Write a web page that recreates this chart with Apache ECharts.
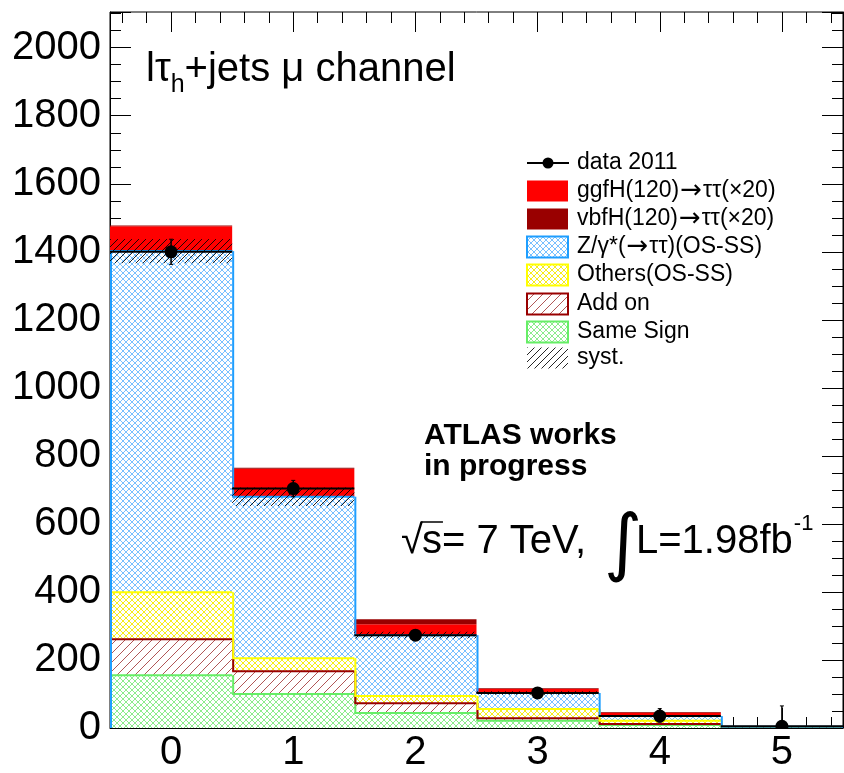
<!DOCTYPE html>
<html><head><meta charset="utf-8">
<script src="https://cdn.jsdelivr.net/npm/echarts@6/dist/echarts.min.js"></script>
<style>html,body{margin:0;padding:0;background:#fff}#c{width:844px;height:773px}</style>
</head><body><div id="c"></div>
<script>
// ---------------- data ----------------
const bins = [0, 1, 2, 3, 4, 5];
const xLabels = ['0', '1', '2', '3', '4', '5'];
const sameSign = [155, 100, 44, 21, 9, 1.5];
const addOn = [106, 67, 29, 8, 3, 0.5];
const others = [138, 38, 21, 27, 9, 0.5];
const zTauTau = [1003, 475, 179, 47, 14, 1];
const ggfH = [73, 82, 32, 12, 10, 0.5];
const vbfH = [2, 3, 15, 2, 2, 0.2];
const dataVal = [1400, 704, 273, 103, 35, 5];
const dataErrLo = [37, 24, 15, 12, 18, 5];
const dataErrHi = [37, 24, 15, 12, 22, 60];
const systErr = [36, 27, 10, 5, 3, 1];

// ---------------- helpers ----------------
const FONT = '"Liberation Sans", Arial, Helvetica, sans-serif';
function tile(size, color, lw, dirs, bg) {
  const c = document.createElement('canvas');
  c.width = c.height = size;
  const g = c.getContext('2d');
  if (bg) { g.fillStyle = bg; g.fillRect(0, 0, size, size); }
  g.strokeStyle = color; g.lineWidth = lw;
  g.beginPath();
  const s = size;
  if (dirs.indexOf('/') >= 0) {
    g.moveTo(-1, s + 1); g.lineTo(s + 1, -1);
    g.moveTo(-1, 1); g.lineTo(1, -1);
    g.moveTo(s - 1, s + 1); g.lineTo(s + 1, s - 1);
  }
  if (dirs.indexOf('\\') >= 0) {
    g.moveTo(-1, -1); g.lineTo(s + 1, s + 1);
    g.moveTo(s - 1, -1); g.lineTo(s + 1, 1);
    g.moveTo(-1, s - 1); g.lineTo(1, s + 1);
  }
  g.stroke();
  return { image: c, repeat: 'repeat' };
}
const patZ = tile(6, 'rgba(30,150,255,0.6)', 1, '/\\', '#ffffff');
const patOthers = tile(6, 'rgba(245,235,0,0.9)', 1, '/\\', '#ffffff');
const patAddOn = tile(9, 'rgba(150,30,30,0.75)', 1, '/', '#ffffff');
const patSame = tile(6, 'rgba(100,230,100,0.75)', 1, '/\\', '#ffffff');
const patSyst = tile(7, 'rgba(0,0,0,0.85)', 1, '/', null);

const colZ = '#1e9eff', colOthers = '#ffff00', colAddOn = '#990000', colSame = '#66ee66';
const colGgf = '#ff0000', colVbf = '#990000';

function cumulate(list) {
  const out = []; let base = bins.map(() => 0);
  list.forEach(v => { const top = base.map((b, i) => b + v[i]); out.push({ lo: base, hi: top }); base = top; });
  return out;
}
const layers = cumulate([sameSign, addOn, others, zTauTau, ggfH, vbfH]);
const bkgTop = layers[3].hi;

function stackLayer(name, lo, hi, fill, stroke) {
  const data = bins.map((b, i) => [b, lo[i], hi[i], i > 0 ? hi[i - 1] : 0, i === bins.length - 1 ? 1 : 0]);
  return {
    type: 'custom', name, data, z: 2, clip: true,
    encode: { x: 0, y: [1, 2] },
    renderItem(params, api) {
      const x = api.value(0), l = api.value(1), h = api.value(2), prev = api.value(3), last = api.value(4);
      const pl = api.coord([x - 0.5, l]);
      const ph = api.coord([x + 0.5, h]);
      const pp = api.coord([x - 0.5, prev]);
      const ch = [{ type: 'rect', z2: 1, shape: { x: pl[0], y: ph[1], width: ph[0] - pl[0], height: pl[1] - ph[1] }, style: { fill } }];
      if (stroke) {
        ch.push({ type: 'line', z2: 5, shape: { x1: pl[0], y1: ph[1], x2: ph[0], y2: ph[1] }, style: { stroke, lineWidth: 2 } });
        ch.push({ type: 'line', z2: 5, shape: { x1: pl[0] + 1, y1: pp[1], x2: pl[0] + 1, y2: ph[1] }, style: { stroke, lineWidth: 2 } });
        if (last) {
          const p0 = api.coord([x + 0.5, 0]);
          ch.push({ type: 'line', z2: 5, shape: { x1: ph[0], y1: ph[1], x2: ph[0], y2: p0[1] }, style: { stroke, lineWidth: 2 } });
        }
      }
      return { type: 'group', children: ch };
    }
  };
}

const series = [
  stackLayer('Same Sign', layers[0].lo, layers[0].hi, patSame, colSame),
  stackLayer('Add on', layers[1].lo, layers[1].hi, patAddOn, colAddOn),
  stackLayer('Others(OS-SS)', layers[2].lo, layers[2].hi, patOthers, colOthers),
  stackLayer('Z/γ*(→ττ)(OS-SS)', layers[3].lo, layers[3].hi, patZ, colZ),
  stackLayer('ggfH(120)→ττ(×20)', layers[4].lo, layers[4].hi, colGgf, null),
  stackLayer('vbfH(120)→ττ(×20)', layers[5].lo, layers[5].hi, colVbf, null),
  {
    type: 'custom', name: 'syst.', z: 3, clip: true,
    data: bins.map((b, i) => [b, bkgTop[i] - systErr[i], bkgTop[i] + systErr[i]]),
    encode: { x: 0, y: [1, 2] },
    renderItem(params, api) {
      const x = api.value(0);
      const a = api.coord([x - 0.5, api.value(1)]), b = api.coord([x + 0.5, api.value(2)]);
      return { type: 'rect', z2: 10, shape: { x: a[0], y: b[1], width: b[0] - a[0], height: a[1] - b[1] }, style: { fill: patSyst } };
    }
  },
  {
    type: 'custom', name: 'data 2011', z: 4, clip: true,
    data: bins.map((b, i) => [b, dataVal[i], Math.max(0, dataVal[i] - dataErrLo[i]), dataVal[i] + dataErrHi[i]]),
    encode: { x: 0, y: 1 },
    renderItem(params, api) {
      const x = api.value(0), y = api.value(1);
      const c = api.coord([x, y]);
      const cl = api.coord([x - 0.5, y]), cr = api.coord([x + 0.5, y]);
      const el = api.coord([x, api.value(2)]), eh = api.coord([x, api.value(3)]);
      const st = { stroke: '#000', lineWidth: 2 };
      return {
        type: 'group', children: [
          { type: 'line', z2: 20, shape: { x1: cl[0], y1: c[1], x2: cr[0], y2: c[1] }, style: st },
          { type: 'line', z2: 20, shape: { x1: c[0], y1: el[1], x2: c[0], y2: eh[1] }, style: { stroke: '#000', lineWidth: 1.5 } },
          { type: 'line', z2: 20, shape: { x1: c[0] - 2, y1: eh[1], x2: c[0] + 2, y2: eh[1] }, style: { stroke: '#000', lineWidth: 1 } },
          { type: 'line', z2: 20, shape: { x1: c[0] - 2, y1: el[1], x2: c[0] + 2, y2: el[1] }, style: { stroke: '#000', lineWidth: 1 } },
          { type: 'circle', z2: 21, shape: { cx: c[0], cy: c[1], r: 6.5 }, style: { fill: '#000' } }
        ]
      };
    }
  }
];

// ---------------- axes ----------------
const majorX = bins.slice();
const minorX = [];
for (let k = -2; k <= 27; k++) { const v = Math.round(k * 2) / 10; if (v > -0.5 && v < 5.5 && Math.abs(v - Math.round(v)) > 1e-6) minorX.push(v); }

function xAx(pos, values, len, withLabel) {
  return {
    type: 'value', min: -0.5, max: 5.5, position: pos,
    axisLine: { show: withLabel, onZero: false, lineStyle: { color: '#000', width: 1 } },
    axisTick: { show: true, inside: true, length: len, customValues: values, lineStyle: { color: '#000', width: 1 } },
    axisLabel: withLabel ? { show: true, customValues: values, fontSize: 40, fontFamily: FONT, color: '#000', margin: 5,
      formatter: v => xLabels[bins.indexOf(Math.round(v))] } : { show: false },
    splitLine: { show: false }
  };
}
function yAx(pos, withLabel) {
  return {
    type: 'value', min: 0, max: 2105, interval: 200, position: pos,
    axisLine: { show: true, onZero: false, lineStyle: { color: '#000', width: 1 } },
    axisTick: { show: true, inside: true, length: 21, lineStyle: { color: '#000', width: 1 } },
    minorTick: { show: true, splitNumber: 4, length: 11, lineStyle: { color: '#000', width: 1 } },
    axisLabel: withLabel ? { show: true, fontSize: 40, fontFamily: FONT, color: '#000', margin: 9,
      formatter: v => (v % 200 === 0 ? String(v) : '') } : { show: false },
    splitLine: { show: false }, minorSplitLine: { show: false }
  };
}

// ---------------- legend & annotations (graphic) ----------------
const mctx = document.createElement('canvas').getContext('2d');
function tw(text, size, weight, fam) { mctx.font = (weight || 'normal') + ' ' + size + 'px ' + (fam || FONT); return mctx.measureText(text).width; }
function txt(text, x, y, size, opts) {
  opts = opts || {};
  return { type: 'text', x, y, z: 100, style: { text, fontSize: size, fontFamily: opts.family || FONT, fontWeight: opts.weight || 'normal',
    fill: '#000', align: 'left', verticalAlign: 'middle' } };
}
const ARROW_FONT = '"DejaVu Sans", ' + FONT;
function richTxt(text, x, y, size) {
  const parts = text.split('→');
  const str = parts.map(p => '{a|' + p + '}').join('{b|→}');
  return { type: 'text', x, y, z: 100, style: { text: str, align: 'left', verticalAlign: 'middle', fill: '#000',
    rich: { a: { fontSize: size, fontFamily: FONT, fill: '#000' }, b: { fontSize: size + 3, fontFamily: ARROW_FONT, fill: '#000', padding: [0, 1, 0, 1] } } } };
}

const legRows = [163, 191, 219, 247, 275, 304, 332, 358];
const LX = 526, LW = 43, LH = 21, TX = 577, LF = 23;
const legendItems = [
  { name: 'data 2011', kind: 'data' },
  { name: 'ggfH(120)→ττ(×20)', fill: colGgf },
  { name: 'vbfH(120)→ττ(×20)', fill: colVbf },
  { name: 'Z/γ*(→ττ)(OS-SS)', fill: patZ, stroke: colZ },
  { name: 'Others(OS-SS)', fill: patOthers, stroke: colOthers },
  { name: 'Add on', fill: patAddOn, stroke: colAddOn },
  { name: 'Same Sign', fill: patSame, stroke: colSame },
  { name: 'syst.', fill: patSyst }
];
const graphics = [];
legendItems.forEach((it, i) => {
  const cy = legRows[i];
  if (it.kind === 'data') {
    graphics.push({ type: 'line', z: 100, shape: { x1: LX + 1, y1: cy, x2: LX + LW, y2: cy }, style: { stroke: '#000', lineWidth: 2 } });
    graphics.push({ type: 'circle', z: 100, shape: { cx: LX + LW / 2 + 0.5, cy, r: 5.5 }, style: { fill: '#000' } });
  } else {
    graphics.push({ type: 'rect', z: 100, shape: { x: LX + 1, y: cy - LH / 2, width: LW - 2, height: LH },
      style: { fill: it.fill, stroke: it.stroke || null, lineWidth: it.stroke ? 2 : 0 } });
  }
  graphics.push(it.name.indexOf('→') >= 0 ? richTxt(it.name, TX, cy, LF) : txt(it.name, TX, cy, LF));
});

// title  "lτ_h+jets μ channel"
const TF = 40, tX = 146, tMid = 84 - 0.3465 * TF;
graphics.push(txt('lτ', tX, tMid, TF));
const w1 = tw('lτ', TF);
graphics.push(txt('h', tX + w1, tMid + 15, 25));
const w2 = tw('h', 25);
graphics.push(txt('+jets μ channel', tX + w1 + w2, tMid, TF));

// ATLAS label
graphics.push(txt('ATLAS works', 424, 446 - 0.3465 * 30, 30, { weight: 'bold' }));
graphics.push(txt('in progress', 424, 477 - 0.3465 * 30, 30, { weight: 'bold' }));

// sqrt(s) = 7 TeV, ∫L = 1.98 fb^-1
const EF = 40, eBase = 556, eMid = eBase - 0.3465 * EF;
let ex = 401;
graphics.push(txt('√', ex, eMid, EF));
ex += tw('√', EF) - 1;
const sW = tw('s', EF);
graphics.push({ type: 'line', z: 100, shape: { x1: ex - 1, y1: eBase - 34, x2: ex + sW + 1, y2: eBase - 34 }, style: { stroke: '#000', lineWidth: 1.5 } });
graphics.push(txt('s= 7 TeV,', ex, eMid, EF));
graphics.push({ type: 'text', x: 604, y: 548, z: 100, style: { text: '∫', fontSize: 74, fontFamily: ARROW_FONT, fill: '#000', align: 'left', verticalAlign: 'middle' } });
ex = 636;
graphics.push(txt('L=1.98fb', ex, eMid, EF));
ex += tw('L=1.98fb', EF);
graphics.push(txt('-1', ex + 1, 524, 22));

const option = {
  animation: false,
  backgroundColor: '#fff',
  grid: { left: 110, right: 1, top: 12, bottom: 44, show: true, borderColor: '#000', borderWidth: 1, backgroundColor: 'transparent' },
  xAxis: [xAx('bottom', majorX, 20, true), xAx('bottom', minorX, 11, false), xAx('top', majorX, 20, false), xAx('top', minorX, 11, false)],
  yAxis: [yAx('left', true), yAx('right', false)],
  series,
  graphic: graphics
};
const chart = echarts.init(document.getElementById('c'), null, { renderer: 'canvas' });
chart.setOption(option);
</script>
</body></html>
